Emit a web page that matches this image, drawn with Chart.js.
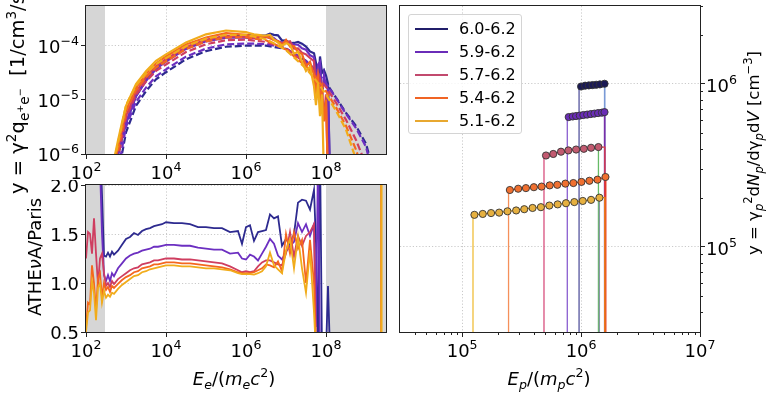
<!DOCTYPE html>
<html>
<head>
<meta charset="utf-8">
<script src="https://cdn.jsdelivr.net/npm/chart.js@4/dist/chart.umd.min.js"></script>
<style>
  body { margin: 0; width: 777px; height: 397px; overflow: hidden; background: #fff; position: relative;
         font-family: 'DejaVu Sans', sans-serif; color: #000; }
  canvas { position: absolute; }
  .lbl { position: absolute; white-space: nowrap; font-size: 18px; line-height: 20px; }
  .rot { transform-origin: 0 0; transform: rotate(-90deg); }
  sup, sub { font-size: 70%; line-height: 0; position: relative; vertical-align: baseline; }
  sup { top: -0.6em; }
  sub { top: 0.35em; }
  #legend { position: absolute; left: 408px; top: 14px; width: 112px; height: 118px;
            border: 1px solid #d4d4d4; border-radius: 3px; background: rgba(255,255,255,0.8); }
  .legline { position: absolute; height: 1.5px; width: 33px; }
  .legtxt { position: absolute; font-size: 16px; line-height: 20px; white-space: nowrap; }
</style>
</head>
<body>
<canvas id="topChart" width="396" height="184" style="left:0;top:0"></canvas>
<canvas id="ratioChart" width="396" height="217" style="left:0;top:180px"></canvas>
<canvas id="protonChart" width="387" height="397" style="left:390px;top:0"></canvas>

<div class="lbl rot" style="left:7px;top:194px;font-size:19.5px;line-height:22px">y = γ<sup>2</sup>q<sub>e<sup>+</sup>e<sup>−</sup></sub>&nbsp; [1/cm<sup>3</sup>/s]</div>
<div class="lbl rot" style="left:25px;top:357px;width:200px;text-align:center">ATHE<i>ν</i>A/Paris</div>
<div class="lbl" style="left:134px;top:369px;width:200px;text-align:center"><i>E<sub>e</sub></i>/(<i>m<sub>e</sub>c</i><sup>2</sup>)</div>
<div class="lbl" style="left:449px;top:369px;width:200px;text-align:center"><i>E<sub>p</sub></i>/(<i>m<sub>p</sub>c</i><sup>2</sup>)</div>
<div class="lbl rot" style="left:745px;top:303px;width:300px;text-align:center;font-size:16.5px;line-height:18px">y = γ<sub><i>p</i></sub><sup>2</sup>d<i>N<sub>p</sub></i>/dγ<sub><i>p</i></sub>d<i>V</i> [cm<sup>−3</sup>]</div>
<div id="legend"></div>

<script>
// ---- electron / positron injection spectra (log10 E, log10 y) ----
const athenaLogE = [2.7, 2.8, 2.9, 3.0, 3.25, 3.5, 3.75, 4.0, 4.5, 5.0, 5.5,
  6.0, 6.1, 6.2, 6.3, 6.4, 6.5, 6.6, 6.7, 6.8, 6.9, 7.0, 7.1, 7.2, 7.3, 7.4, 7.5, 7.6, 7.7,
  7.75, 7.8, 7.85, 7.9, 7.95, 8.0, 8.05, 8.1, 8.15];
const athena60 = [-6.4, -6.02, -5.71, -5.43, -4.93, -4.64, -4.42, -4.28, -4.04, -3.90, -3.83,
  -3.81, -3.80, -3.845, -3.824, -3.815, -3.81, -3.78, -3.80, -3.81, -3.905, -3.90, -3.954, -3.95, -3.93, -3.963, -4.015, -4.107, -4.14,
  -4.32, -4.9, -4.2, -4.5, -4.45, -4.55, -4.7, -6.5, null];
const athena59 = [-6.4, -6.0, -5.70, -5.43, -4.93, -4.65, -4.43, -4.295, -4.06, -3.92, -3.85,
  -3.846, -3.869, -3.853, -3.876, -3.844, -3.824, -3.824, -3.86, -3.923, -3.942, -3.926, -3.95, -3.979, -3.983, -4.05, -4.076, -4.174, -4.216,
  -4.72, -4.35, -4.3, -5.0, -4.55, -4.75, -4.8, -6.5, null];
const athena57 = [-6.25, -5.9, -5.58, -5.30, -4.85, -4.585, -4.38, -4.25, -4.025, -3.89, -3.82,
  -3.841, -3.852, -3.855, -3.843, -3.835, -3.84, -3.86, -3.892, -3.924, -3.953, -3.936, -3.918, -4.056, -4.05, -4.13, -4.16, -4.228, -4.286,
  -4.8, -4.5, -4.6, -4.9, -5.3, -4.9, -6.5, null, null];
const athena54 = [-6.18, -5.83, -5.5, -5.20, -4.78, -4.525, -4.33, -4.20, -3.98, -3.85, -3.77,
  -3.80, -3.814, -3.821, -3.824, -3.827, -3.824, -3.858, -3.90, -3.914, -3.986, -3.894, -4.016, -4.008, -4.12, -4.152, -4.38, -4.30, -4.54,
  -4.9, -4.6, -5.0, -4.8, -5.4, -5.0, -6.5, null, null];
const athena51 = [-6.1, -5.75, -5.42, -5.11, -4.71, -4.47, -4.28, -4.16, -3.94, -3.79, -3.72,
  -3.75, -3.77, -3.79, -3.80, -3.81, -3.812, -3.803, -3.888, -3.943, -3.999, -3.956, -3.984, -4.149, -4.113, -4.289, -4.466, -4.386, -4.75,
  -5.1, -4.7, -5.3, -4.9, -6.5, null, null, null, null];

const parisLogE = [2.7, 2.8, 2.9, 3.0, 3.25, 3.5, 3.75, 4.0, 4.5, 5.0, 5.5, 6.0, 6.5, 7.0, 7.5, 7.75, 8.0, 8.25, 8.5, 8.75, 9.0, 9.25];
const paris60 = [-6.9, -6.4, -6.0, -5.6, -5.11, -4.84, -4.62, -4.49, -4.25, -4.10, -4.02, -4.0, -4.0, -4.06, -4.28, -4.47, -4.68, -4.96, -5.24, -5.48, -5.81, -6.5];
const paris59 = [-6.8, -6.3, -5.9, -5.50, -5.035, -4.775, -4.564, -4.438, -4.202, -4.054, -3.976, -3.96, -3.97, -4.05, -4.28, -4.46, -4.69, -4.97, -5.26, -5.52, -5.87, -6.6];
const paris57 = [-6.5, -6.08, -5.7, -5.325, -4.904, -4.661, -4.466, -4.347, -4.118, -3.974, -3.899, -3.89, -3.93, -4.05, -4.33, -4.53, -4.76, -5.05, -5.37, -5.74, -6.2, null];
const paris54 = [-6.3, -5.93, -5.57, -5.21, -4.818, -4.587, -4.402, -4.287, -4.063, -3.92, -3.848, -3.844, -3.90, -4.07, -4.38, -4.59, -4.84, -5.14, -5.48, -5.92, -6.5, null];
const paris51 = [-6.15, -5.8, -5.45, -5.10, -4.735, -4.515, -4.34, -4.23, -4.01, -3.87, -3.80, -3.80, -3.88, -4.08, -4.42, -4.64, -4.90, -5.2, -5.55, -6.1, null, null];

// ---- ATHENA / Paris ratio ----
const ratioLogE = [2.0, 2.05, 2.1, 2.15, 2.2, 2.25, 2.3, 2.35, 2.4, 2.45, 2.5, 2.55, 2.6, 2.65, 2.7,
  2.8, 2.9, 3.0, 3.1, 3.2, 3.3, 3.4, 3.5, 3.6, 3.7, 3.8, 3.9, 4.0,
  4.2, 4.4, 4.6, 4.8, 5.0, 5.2, 5.4, 5.6, 5.8,
  5.9, 6.0, 6.1, 6.2, 6.3, 6.4, 6.5, 6.6, 6.7, 6.8, 6.9, 7.0, 7.1, 7.2, 7.3, 7.4, 7.5, 7.6, 7.7,
  7.75, 7.8, 7.85, 7.9, 7.95, 8.0, 8.05, 8.1];
const ratio60 = [2.6, 2.6, 2.6, 2.6, 2.6, 2.6, 2.6, 2.4, 1.9, 1.28, 1.27, 1.31, 1.27, 1.32, 1.29,
  1.33, 1.39, 1.45, 1.47, 1.51, 1.49, 1.53, 1.55, 1.56, 1.58, 1.59, 1.60, 1.62,
  1.61, 1.61, 1.60, 1.57, 1.57, 1.56, 1.56, 1.52, 1.53,
  1.40, 1.57, 1.59, 1.43, 1.52, 1.53, 1.54, 1.70, 1.66, 1.68, 1.38, 1.45, 1.39, 1.50, 1.82, 1.85, 1.84, 1.75, 1.95,
  1.40, 0.3, 2.4, 0.3, 0.3, 0.3, 0.97, 0.3];
const ratio59 = [2.6, 2.6, 2.6, 2.6, 2.6, 2.6, 2.6, 2.2, 1.5, 1.08, 1.02, 1.08, 1.02, 1.10, 1.07,
  1.15, 1.20, 1.25, 1.28, 1.30, 1.31, 1.33, 1.34, 1.35, 1.37, 1.37, 1.38, 1.39,
  1.39, 1.38, 1.38, 1.36, 1.35, 1.34, 1.34, 1.30, 1.31,
  1.25, 1.24, 1.29, 1.27, 1.23, 1.30, 1.37, 1.45, 1.40, 1.28, 1.24, 1.32, 1.38, 1.42, 1.61, 1.52, 1.60, 1.48, 1.60,
  0.55, 2.3, 0.3, 0.3, 0.3, 0.3, 0.3, 0.3];
const ratio57 = [1.25, 1.52, 1.50, 1.30, 1.66, 1.30, 0.98, 1.25, 1.30, 1.10, 0.97, 1.00, 0.96, 1.02, 0.99,
  1.04, 1.07, 1.10, 1.13, 1.15, 1.16, 1.19, 1.20, 1.21, 1.23, 1.23, 1.24, 1.25,
  1.25, 1.24, 1.24, 1.23, 1.22, 1.21, 1.20, 1.17, 1.13,
  1.11, 1.12, 1.11, 1.12, 1.17, 1.21, 1.23, 1.23, 1.21, 1.19, 1.18, 1.30, 1.52, 1.27, 1.48, 1.38, 1.48, 1.52, 1.60,
  0.3, 0.3, 0.3, 0.3, 0.3, 0.3, 0.3, 0.3];
const ratio54 = [0.55, 0.80, 0.78, 1.18, 1.00, 0.72, 1.05, 1.10, 0.85, 1.00, 0.93, 0.96, 0.91, 0.97, 0.95,
  0.99, 1.03, 1.06, 1.08, 1.11, 1.12, 1.15, 1.16, 1.17, 1.19, 1.19, 1.20, 1.21,
  1.21, 1.20, 1.20, 1.19, 1.18, 1.17, 1.16, 1.14, 1.11,
  1.10, 1.10, 1.10, 1.11, 1.13, 1.15, 1.19, 1.18, 1.16, 1.22, 1.12, 1.50, 1.30, 1.52, 1.35, 1.44, 1.00, 1.44, 1.00,
  0.3, 0.3, 0.3, 0.3, 0.3, 0.3, 0.3, 0.3];
const ratio51 = [0.50, 0.70, 0.72, 1.02, 0.90, 0.62, 0.95, 1.00, 0.80, 0.92, 0.85, 0.88, 0.86, 0.90, 0.89,
  0.94, 0.98, 1.01, 1.04, 1.07, 1.08, 1.11, 1.12, 1.14, 1.15, 1.16, 1.17, 1.18,
  1.18, 1.17, 1.17, 1.16, 1.15, 1.15, 1.14, 1.13, 1.10,
  1.09, 1.09, 1.09, 1.085, 1.10, 1.12, 1.17, 1.31, 1.18, 1.14, 1.10, 1.33, 1.45, 1.15, 1.47, 1.15, 0.90, 1.33, 0.70,
  0.3, 0.3, 0.3, 0.3, 0.3, 0.3, 0.3, 0.3];
// lone spikes near the top end of the grid (orange, yellow)
const ratioSpikeLogE = [9.372, 9.386];
const ratioSpikeSpan = [0.3, 2.6];

// ---- proton spectra ----
const p60LogE = [6.0, 6.034, 6.065, 6.096, 6.127, 6.158, 6.197];
const p60N = [9.62e5, 9.73e5, 9.77e5, 9.82e5, 9.86e5, 9.91e5, 1.0e6];
const p59LogE = [5.896, 5.930, 5.958, 5.989, 6.019, 6.051, 6.082, 6.112, 6.143, 6.175, 6.197];
const p59N = [6.25e5, 6.30e5, 6.34e5, 6.38e5, 6.43e5, 6.47e5, 6.52e5, 6.56e5, 6.61e5, 6.65e5, 6.70e5];
const p57LogE = [5.705, 5.766, 5.831, 5.893, 5.958, 6.023, 6.084, 6.146];
const p57N = [3.63e5, 3.71e5, 3.83e5, 3.90e5, 3.95e5, 3.99e5, 4.05e5, 4.09e5];
const p54LogE = [5.401, 5.471, 5.536, 5.603, 5.668, 5.736, 5.800, 5.868, 5.935, 6.003, 6.070, 6.138, 6.205];
const p54N = [2.23e5, 2.27e5, 2.29e5, 2.32e5, 2.34e5, 2.38e5, 2.40e5, 2.44e5, 2.46e5, 2.50e5, 2.54e5, 2.58e5, 2.68e5];
const p51LogE = [5.103, 5.173, 5.243, 5.311, 5.381, 5.454, 5.522, 5.592, 5.662, 5.733, 5.803, 5.873, 5.943, 6.014, 6.084, 6.154];
const p51N = [1.57e5, 1.59e5, 1.61e5, 1.62e5, 1.65e5, 1.67e5, 1.70e5, 1.73e5, 1.75e5, 1.79e5, 1.82e5, 1.85e5, 1.88e5, 1.91e5, 1.94e5, 2.00e5];
const protonEdgeLo = [5.983, 5.884, 5.688, 5.390, 5.091];
const protonEdgeHi = [6.2, 6.2, 6.2, 6.208, 6.2];
const protonFloor = 1;   // empty bins, far below the axis
const protonLabels = ['6.0-6.2', '5.9-6.2', '5.7-6.2', '5.4-6.2', '5.1-6.2'];

// ---- axes ----
const eTicks = [1e2, 1e4, 1e6, 1e8];
const qTicks = [1e-6, 1e-5, 1e-4];
const ratioTicks = [0.5, 1.0, 1.5, 2.0];
const epTicks = [1e5, 1e6, 1e7];
const npTicks = [1e5, 1e6];
const shadeLogE = [[2, 2.475], [8, 9.5]];

const curveColors = ['#2d2a8f', '#6c2fc1', '#cf3e60', '#f4671f', '#f1ac1b'];
const markerFill = ['#1b1a55', '#6a2cb6', '#c25a70', '#f07030', '#e6b040'];
const legendColors = ['#211e6a', '#6a2cb8', '#c24a6e', '#f06424', '#e8a830'];
const stepLeft = ['#54549e', '#8a5ed0', '#d8507e', '#f5905a', '#f0be3a'];
const stepMid = ['#1b1a55', '#4c2090', '#a83a58', '#d8401e', '#c8901c'];
const stepRight = ['#7a9ad6', '#7a2ea8', '#e03a44', '#e23a2c', '#f08a12'];

Chart.defaults.font.family = "'DejaVu Sans', sans-serif";

const toPts = (logE, logY) => logE.map((e, k) => ({ x: 10 ** e, y: logY[k] == null ? null : 10 ** logY[k] }));

function drawPow(ctx, v, x, y, align, size) {
  const exp = String(Math.round(Math.log10(v))).replace('-', '−');
  ctx.font = size + "px 'DejaVu Sans'";
  const wb = ctx.measureText('10').width;
  ctx.font = (size * 0.7) + "px 'DejaVu Sans'";
  const ws = ctx.measureText(exp).width;
  let x0 = x;
  if (align === 'center') x0 = x - (wb + ws) / 2;
  if (align === 'right') x0 = x - wb - ws;
  ctx.textAlign = 'left';
  ctx.textBaseline = 'alphabetic';
  ctx.font = size + "px 'DejaVu Sans'";
  ctx.fillText('10', x0, y);
  ctx.font = (size * 0.7) + "px 'DejaVu Sans'";
  ctx.fillText(exp, x0 + wb, y - size * 0.43);
}

// shading, frame, minor ticks and tick labels
const deco = {
  id: 'deco',
  beforeDatasetsDraw(chart, args, opts) {
    const { ctx, chartArea: a, scales } = chart;
    ctx.save();
    ctx.fillStyle = '#d6d6d6';
    (opts.shade || []).forEach(([lo, hi]) => {
      const x0 = Math.max(a.left, scales.x.getPixelForValue(10 ** lo));
      const x1 = Math.min(a.right, scales.x.getPixelForValue(10 ** hi));
      ctx.fillRect(x0, a.top, x1 - x0, a.bottom - a.top);
    });
    ctx.restore();
  },
  afterDraw(chart, args, opts) {
    const { ctx, chartArea: a, scales } = chart;
    ctx.save();
    ctx.strokeStyle = '#222';
    ctx.lineWidth = 1;
    ctx.strokeRect(a.left - 0.5, a.top - 0.5, a.right - a.left + 1, a.bottom - a.top + 1);
    (opts.minor || []).forEach(m => {
      const s = scales[m.axis];
      ctx.beginPath();
      m.values.forEach(v => {
        const p = Math.round(s.getPixelForValue(v)) + 0.5;
        if (m.side === 'bottom') { ctx.moveTo(p, a.bottom); ctx.lineTo(p, a.bottom + 3); }
        if (m.side === 'right') { ctx.moveTo(a.right, p); ctx.lineTo(a.right + 3, p); }
      });
      ctx.stroke();
    });
    ctx.fillStyle = '#000';
    (opts.labels || []).forEach(l => {
      const s = scales[l.axis];
      l.values.forEach(v => {
        const p = s.getPixelForValue(v);
        if (l.fmt === 'pow') {
          if (l.side === 'bottom') drawPow(ctx, v, p, a.bottom + 25, 'center', 18);
          if (l.side === 'left') drawPow(ctx, v, a.left - 7, p + 7, 'right', 18);
          if (l.side === 'right') drawPow(ctx, v, a.right + 6, p + 8, 'left', 18);
        } else {
          ctx.font = "18px 'DejaVu Sans'";
          ctx.textAlign = 'right';
          ctx.textBaseline = 'alphabetic';
          ctx.fillText(v.toFixed(1), a.left - 7, p + 6.5);
        }
      });
    });
    ctx.restore();
  }
};

function axis(type, min, max, ticks, pos, size) {
  return {
    type, min, max, position: pos,
    afterBuildTicks: s => { s.ticks = ticks.map(v => ({ value: v })); },
    afterFit: s => { if (s.isHorizontal()) s.height = size; else s.width = size; },
    ticks: { display: false },
    grid: { color: '#c4c4c4', lineWidth: 0.9, tickLength: 5, tickColor: '#222', tickWidth: 1 },
    border: { display: false, dash: [1.2, 2] }
  };
}

const baseOptions = (padding, scales, deco) => ({
  responsive: false, animation: false, devicePixelRatio: 1, events: [],
  layout: { padding },
  scales,
  plugins: { legend: { display: false }, tooltip: { enabled: false }, deco }
});

// first dataset in the list ends up at the back
function ordered(sets) {
  sets.forEach((d, k) => { d.order = sets.length - k; });
  return sets;
}

// ---- top panel ----
const athena = [athena60, athena59, athena57, athena54, athena51];
const paris = [paris60, paris59, paris57, paris54, paris51];
const topSets = [];
curveColors.forEach((c, i) => {
  topSets.push({ data: toPts(athenaLogE, athena[i]), showLine: true, borderColor: c, borderWidth: 2.2, pointRadius: 0 });
  topSets.push({ data: toPts(parisLogE, paris[i]), showLine: true, borderColor: c, borderWidth: 2.2, borderDash: [7, 3], pointRadius: 0 });
});

new Chart(document.getElementById('topChart'), {
  type: 'scatter',
  data: { datasets: ordered(topSets) },
  options: baseOptions({ top: 6, right: 10, left: 0, bottom: 0 }, {
    x: axis('logarithmic', 1e2, 10 ** 9.5, eTicks, 'bottom', 30),
    y: axis('logarithmic', 1e-6, 5.4e-4, qTicks, 'left', 86)
  }, {
    shade: shadeLogE,
    labels: [{ axis: 'x', side: 'bottom', values: eTicks, fmt: 'pow' }, { axis: 'y', side: 'left', values: qTicks, fmt: 'pow' }]
  }),
  plugins: [deco]
});

// ---- ratio panel ----
const ratios = [ratio60, ratio59, ratio57, ratio54, ratio51];
const ratioSets = ratios.map((r, i) => ({
  data: ratioLogE.map((e, k) => ({ x: 10 ** e, y: r[k] })),
  showLine: true, borderColor: curveColors[i], borderWidth: 1.8, pointRadius: 0
}));
ratioSpikeLogE.forEach((e, j) => {
  ratioSets.push({
    data: ratioSpikeSpan.map(v => ({ x: 10 ** e, y: v })),
    showLine: true, borderColor: curveColors[3 + j], borderWidth: j ? 2.2 : 1.4, pointRadius: 0
  });
});

new Chart(document.getElementById('ratioChart'), {
  type: 'scatter',
  data: { datasets: ordered(ratioSets) },
  options: baseOptions({ top: 5, right: 10, left: 0, bottom: 0 }, {
    x: axis('logarithmic', 1e2, 10 ** 9.5, eTicks, 'bottom', 65),
    y: axis('linear', 0.5, 2.0, ratioTicks, 'left', 86)
  }, {
    shade: shadeLogE,
    labels: [{ axis: 'x', side: 'bottom', values: eTicks, fmt: 'pow' }, { axis: 'y', side: 'left', values: ratioTicks, fmt: 'fix' }]
  }),
  plugins: [deco]
});

// ---- proton panel ----
const pLogE = [p60LogE, p59LogE, p57LogE, p54LogE, p51LogE];
const pN = [p60N, p59N, p57N, p54N, p51N];
const lineSets = [], markerSets = [], innerSets = [];
pLogE.forEach((le, i) => {
  const n = pN[i], last = n.length - 1;
  const pts = [{ x: 10 ** protonEdgeLo[i], y: protonFloor }, { x: 10 ** protonEdgeLo[i], y: n[0] }]
    .concat(le.map((e, k) => ({ x: 10 ** e, y: n[k] })))
    .concat([{ x: 10 ** protonEdgeHi[i], y: n[last] }, { x: 10 ** protonEdgeHi[i], y: protonFloor }]);
  const nSeg = pts.length - 1;
  lineSets.push({
    data: pts, showLine: true, pointRadius: 0, borderWidth: 1.3, borderColor: stepMid[i],
    segment: {
      borderColor: c => c.p0DataIndex === 0 ? stepLeft[i] : (c.p0DataIndex >= nSeg - 2 ? stepRight[i] : stepMid[i])
    }
  });
  markerSets.push({
    data: le.map((e, k) => ({ x: 10 ** e, y: n[k] })),
    showLine: false, pointRadius: 3.6, pointBorderWidth: 0.9,
    pointBackgroundColor: markerFill[i], pointBorderColor: '#333'
  });
});
// inner drops at the last filled bin of the 5.7 and 5.1 runs
[[2, '#66bb66'], [4, '#8a96a6']].forEach(([i, col]) => {
  const le = pLogE[i], n = pN[i], last = n.length - 1;
  innerSets.push({
    data: [{ x: 10 ** le[last], y: n[last] }, { x: 10 ** le[last], y: protonFloor }],
    showLine: true, pointRadius: 0, borderWidth: 1.3, borderColor: col
  });
});

const minorX = [], minorY = [];
[1e4, 1e5, 1e6].forEach(d => { for (let m = 2; m <= 9; m++) { if (d * m > 3e4 && d * m < 1e7) minorX.push(d * m); } });
[1e4, 1e5, 1e6].forEach(d => { for (let m = 2; m <= 9; m++) { if (d * m > 3e4 && d * m <= 3e6) minorY.push(d * m); } });

new Chart(document.getElementById('protonChart'), {
  type: 'scatter',
  data: { datasets: ordered(lineSets.concat(innerSets, markerSets)) },
  options: baseOptions({ top: 6, right: 0, left: 10, bottom: 0 }, {
    x: axis('logarithmic', 3e4, 1e7, epTicks, 'bottom', 65),
    y: axis('logarithmic', 3e4, 3e6, npTicks, 'right', 77)
  }, {
    labels: [{ axis: 'x', side: 'bottom', values: epTicks, fmt: 'pow' }, { axis: 'y', side: 'right', values: npTicks, fmt: 'pow' }],
    minor: [{ axis: 'x', side: 'bottom', values: minorX }, { axis: 'y', side: 'right', values: minorY }]
  }),
  plugins: [deco]
});

// ---- legend ----
const legend = document.getElementById('legend');
protonLabels.forEach((t, i) => {
  const cy = 13 + 23 * i;
  const ln = document.createElement('div');
  ln.className = 'legline';
  ln.style.cssText = `left:6px;top:${cy}px;background:${legendColors[i]}`;
  const tx = document.createElement('div');
  tx.className = 'legtxt';
  tx.style.cssText = `left:50px;top:${cy - 9}px`;
  tx.textContent = t;
  legend.appendChild(ln);
  legend.appendChild(tx);
});
</script>
</body>
</html>
